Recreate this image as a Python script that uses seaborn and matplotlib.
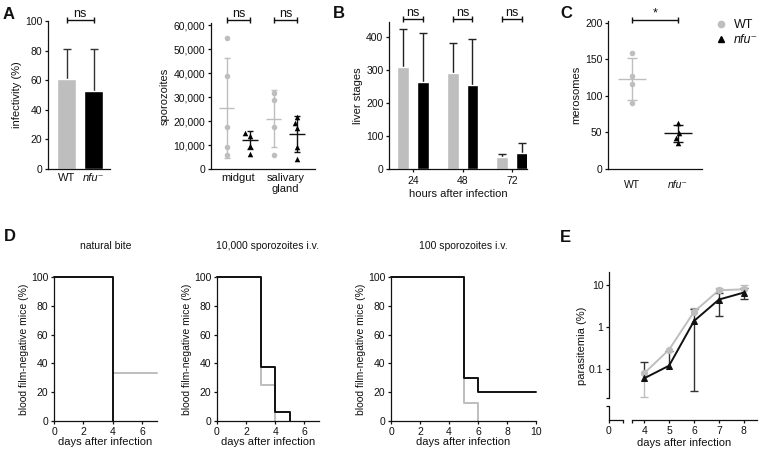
import numpy as np
import pandas as pd
import seaborn as sns
import matplotlib.pyplot as plt
from matplotlib.lines import Line2D
from matplotlib.ticker import StrMethodFormatter, NullLocator

# ---- values ----
geno = ["WT", "nfu"]

# A: infectivity (%)
infect_mean = [61, 53]
infect_top = [81, 81]

# A: sporozoites per mosquito
spz_groups = ["midgut WT", "midgut nfu", "salivary WT", "salivary nfu"]
midgut_wt = [54700, 39000, 17500, 9300, 5700]
midgut_nfu = [14900, 13800, 9800, 6200]
salivary_wt = [31700, 28700, 17600, 5800]
salivary_nfu = [21800, 19300, 17200, 9300, 4000]
spz_mean = [25300, 12100, 21000, 14400]
spz_lo = [4500, 8200, 9000, 6900]
spz_hi = [46100, 16000, 32800, 22200]

# B: liver stages
hours = ["24", "48", "72"]
liver_wt = [309, 292, 37]
liver_nfu = [265, 255, 50]
liver_wt_top = [425, 382, 47]
liver_nfu_top = [412, 394, 80]

# C: merosomes
mero_wt = [159, 128, 117, 90]
mero_nfu = [63, 49, 43, 36]
mero_mean = [123.5, 48.7]
mero_lo = [95, 37.4]
mero_hi = [152, 60]

# D: blood film-negative mice (%)
bite_wt_t, bite_wt = [0, 4, 7], [100, 33.3, 33.3]
bite_nfu_t, bite_nfu = [0, 4], [100, 0]
iv10k_wt_t, iv10k_wt = [0, 3, 4], [100, 25, 0]
iv10k_nfu_t, iv10k_nfu = [0, 3, 4, 5], [100, 37.5, 6.25, 0]
iv100_wt_t, iv100_wt = [0, 5, 6], [100, 12.5, 0]
iv100_nfu_t, iv100_nfu = [0, 5, 6, 10], [100, 30, 20, 20]

# E: parasitemia (%)
days = [4, 5, 6, 7, 8]
para_wt = [0.079, 0.29, 2.3, 7.5, 7.9]
para_wt_lo = [0.021, 0.29, 2.3, 7.5, 7.9]
para_wt_hi = [0.079, 0.29, 2.9, 8.5, 9.8]
para_nfu = [0.060, 0.12, 1.39, 4.5, 6.6]
para_nfu_lo = [0.060, 0.12, 0.030, 1.8, 4.7]
para_nfu_hi = [0.15, 0.27, 2.7, 6.6, 8.7]

# ---- style ----
GREY = "#bebebe"
INK = "#111111"
NFU = "nfu\u207b"

sns.set_style("ticks")
plt.rcParams["font.family"] = ["Liberation Sans", "DejaVu Sans"]
plt.rcParams.update({
    "axes.edgecolor": INK, "axes.labelcolor": INK, "text.color": INK,
    "xtick.color": INK, "ytick.color": INK,
    "axes.linewidth": 0.9,
    "xtick.major.width": 0.9, "ytick.major.width": 0.9,
    "xtick.major.size": 2.5, "ytick.major.size": 2.5,
    "xtick.major.pad": 1.5, "ytick.major.pad": 1.5,
    "xtick.labelsize": 7.5, "ytick.labelsize": 7.5,
    "axes.labelsize": 8, "axes.labelpad": 2.5,
})

W, H = 764, 455


def box(l, t, r, b):
    return [l / W, 1 - b / H, (r - l) / W, (b - t) / H]


def whisker(ax, x, y, lo, hi, color, cap=5, lw=1.0, z=1):
    ax.vlines(x, lo, hi, color=color, lw=lw, zorder=z)
    for xi, yi, l, h in zip(x, y, lo, hi):
        for e in (l, h):
            if e != yi:
                ax.plot([xi], [e], marker="_", ms=cap, mew=lw, color=color, zorder=z)


def bracket(ax, x0, x1, y, text, size=9):
    ax.plot([x0, x1], [y, y], color=INK, lw=1, marker="|", ms=4, mew=1, clip_on=False)
    ax.text((x0 + x1) / 2, y, text, ha="center", va="bottom", fontsize=size)


def geno_ticks(ax, pos, size=8):
    ax.set_xticks(pos, ["WT", NFU], fontsize=size)
    ax.get_xticklabels()[1].set_style("italic")


fig = plt.figure(figsize=(7.64, 4.55), dpi=100)

# ---- A: infectivity bars ----
ax = fig.add_axes(box(48, 21, 110, 169))
sns.barplot(x=geno, y=infect_mean, hue=geno, palette=[GREY, "black"], width=0.7,
            saturation=1, errorbar=None, legend=False, ax=ax)
whisker(ax, [0, 1], infect_mean, infect_mean, infect_top, "#333333", cap=6, z=0)
ax.set_xlim(-0.685, 1.61)
ax.set_ylim(0, 100)
ax.set_yticks(range(0, 101, 20))
geno_ticks(ax, [0, 1])
ax.tick_params(axis="x", length=0, pad=3)
ax.set_ylabel("infectivity (%)")
bracket(ax, 0, 1, 100.5, "ns")
sns.despine(ax=ax)

# ---- A: sporozoite scatter ----
spz = pd.DataFrame({
    "group": ["midgut WT"] * len(midgut_wt) + ["midgut nfu"] * len(midgut_nfu)
    + ["salivary WT"] * len(salivary_wt) + ["salivary nfu"] * len(salivary_nfu),
    "value": midgut_wt + midgut_nfu + salivary_wt + salivary_nfu,
})
spz["genotype"] = spz["group"].str.split().str[1]
ax = fig.add_axes(box(211, 23, 315, 169))
sns.swarmplot(data=spz[spz.genotype == "WT"], x="group", y="value", order=spz_groups,
              color=GREY, marker="o", size=4, ax=ax)
sns.swarmplot(data=spz[spz.genotype == "nfu"], x="group", y="value", order=spz_groups,
              color="black", marker="^", size=4, ax=ax)
xs = np.arange(4)
cols = [GREY, INK, GREY, INK]
for i in range(4):
    ax.hlines(spz_mean[i], xs[i] - 0.33, xs[i] + 0.33, color=cols[i], lw=1)
    whisker(ax, [xs[i]], [spz_mean[i]], [spz_lo[i]], [spz_hi[i]], cols[i], cap=5)
ax.set_xlim(-0.67, 3.76)
ax.set_ylim(0, 60900)
ax.set_yticks(range(0, 60001, 10000))
ax.yaxis.set_major_formatter(StrMethodFormatter("{x:,.0f}"))
ax.set_xticks([0.5, 2.5], ["midgut", "salivary\ngland"], fontsize=8, linespacing=1.05)
ax.tick_params(axis="x", length=0, pad=3)
ax.set_xlabel("")
ax.set_ylabel("sporozoites")
bracket(ax, 0, 1, 62100, "ns")
bracket(ax, 2, 3, 62100, "ns")
sns.despine(ax=ax)

# ---- B: liver stages ----
liver = pd.DataFrame({"hours": hours * 2, "value": liver_wt + liver_nfu,
                      "genotype": ["WT"] * 3 + ["nfu"] * 3})
ax = fig.add_axes(box(389, 22, 527, 169))
sns.barplot(data=liver, x="hours", y="value", hue="genotype", palette=[GREY, "black"],
            gap=0.4, saturation=1, errorbar=None, legend=False, ax=ax)
centers = sorted(p.get_x() + p.get_width() / 2 for p in ax.patches)
wt_x, nfu_x = centers[0::2], centers[1::2]
whisker(ax, wt_x, liver_wt, liver_wt, liver_wt_top, "#222222", cap=6, z=0)
whisker(ax, nfu_x, liver_nfu, liver_nfu, liver_nfu_top, "#222222", cap=6, z=0)
for a, b in zip(wt_x, nfu_x):
    bracket(ax, a, b, 454, "ns")
ax.set_xlim(-0.485, 2.30)
ax.set_ylim(0, 446)
ax.set_yticks(range(0, 401, 100))
ax.tick_params(axis="x", pad=2.5)
ax.set_xlabel("hours after infection", labelpad=2)
ax.set_ylabel("liver stages")
sns.despine(ax=ax)

# ---- C: merosomes ----
mero = pd.DataFrame({"genotype": ["WT"] * len(mero_wt) + ["nfu"] * len(mero_nfu),
                     "value": mero_wt + mero_nfu})
ax = fig.add_axes(box(608, 21, 702, 169))
sns.swarmplot(data=mero[mero.genotype == "WT"], x="genotype", y="value", order=geno,
              color=GREY, marker="o", size=4, ax=ax)
sns.swarmplot(data=mero[mero.genotype == "nfu"], x="genotype", y="value", order=geno,
              color="black", marker="^", size=4, ax=ax)
for i, c in enumerate([GREY, INK]):
    ax.hlines(mero_mean[i], i - 0.3, i + 0.3, color=c, lw=1)
    whisker(ax, [i], [mero_mean[i]], [mero_lo[i]], [mero_hi[i]], c, cap=7)
ax.set_xlim(-0.52, 1.52)
ax.set_ylim(0, 202.7)
ax.set_yticks(range(0, 201, 50))
geno_ticks(ax, [0, 1], size=7.5)
ax.tick_params(axis="x", length=0, pad=8)
ax.set_xlabel("")
ax.set_ylabel("merosomes")
bracket(ax, 0, 1, 204.5, "*")
sns.despine(ax=ax)

leg = fig.legend(handles=[Line2D([], [], ls="none", marker="o", ms=4.5, color=GREY),
                          Line2D([], [], ls="none", marker="^", ms=4.5, color="black")],
                 labels=["WT", NFU], loc="upper left", bbox_to_anchor=(716 / W, 1 - 19 / H),
                 frameon=False, fontsize=9, handlelength=0.8, handletextpad=0.6,
                 labelspacing=0.25, borderpad=0, borderaxespad=0)
leg.get_texts()[1].set_style("italic")

# ---- D: survival curves ----
d_panels = [
    ((54, 277, 157, 421), "natural bite", 7, (bite_wt_t, bite_wt), (bite_nfu_t, bite_nfu)),
    ((217, 277, 319, 421), "10,000 sporozoites i.v.", 7, (iv10k_wt_t, iv10k_wt), (iv10k_nfu_t, iv10k_nfu)),
    ((391, 277, 536, 421), "100 sporozoites i.v.", 10, (iv100_wt_t, iv100_wt), (iv100_nfu_t, iv100_nfu)),
]
for pos, title, xmax, wt, nfu in d_panels:
    ax = fig.add_axes(box(*pos))
    sns.lineplot(x=wt[0], y=wt[1], drawstyle="steps-post", color=GREY, lw=1.4,
                 estimator=None, clip_on=False, ax=ax)
    sns.lineplot(x=nfu[0], y=nfu[1], drawstyle="steps-post", color=INK, lw=1.4,
                 estimator=None, clip_on=False, ax=ax)
    ax.set_xlim(0, xmax)
    ax.set_ylim(0, 100)
    ax.set_xticks(range(0, xmax + 1, 2))
    ax.set_yticks(range(0, 101, 20))
    ax.set_xlabel("days after infection", labelpad=0)
    ax.set_ylabel("blood film-negative mice (%)", fontsize=7.5, labelpad=1.5)
    ax.text(0.5, 1.215, title, transform=ax.transAxes, ha="center", va="center", fontsize=7.5)
    sns.despine(ax=ax)

# ---- E: parasitemia, broken axes ----
y_lim = (0.0061, 20.4)
stub = fig.add_axes(box(609, 272, 623, 420))
main = fig.add_axes(box(632, 272, 757, 420))
for a in (stub, main):
    a.set_yscale("log")
    a.set_ylim(*y_lim)
    a.yaxis.set_minor_locator(NullLocator())
    sns.despine(ax=a)

stub.set_xlim(0, 1)
stub.set_xticks([0, 1], ["0", ""])
stub.set_yticks([10, 1, 0.1, 0.0204, 0.0131], ["10", "1", "0.1", "", ""])
stub.spines["left"].set_bounds(0.0204, y_lim[1])
stub.plot([0, 0], [0, (420 - 405.7) / 148], transform=stub.transAxes, color=INK,
          lw=0.9, clip_on=False)
stub.set_ylabel("parasitemia (%)", labelpad=1.5)

sns.lineplot(x=days, y=para_wt, color=GREY, marker="o", ms=4.5, mec=GREY, lw=1.4, ax=main)
sns.lineplot(x=days, y=para_nfu, color=INK, marker="^", ms=4.5, mec=INK, lw=1.4, ax=main)
whisker(main, days, para_wt, para_wt_lo, para_wt_hi, GREY, cap=6)
whisker(main, days, para_nfu, para_nfu_lo, para_nfu_hi, "#333333", cap=6)
main.set_xlim(3.51, 8.53)
main.set_xticks([3.51, 4, 5, 6, 7, 8], ["", "4", "5", "6", "7", "8"])
main.spines["left"].set_visible(False)
main.tick_params(axis="y", left=False, labelleft=False)
main.set_xlabel("days after infection")
main.xaxis.set_label_coords(0.42, -0.12)

# ---- panel letters ----
for letter, x, y in [("A", 3, 7), ("B", 333, 6), ("C", 560, 6), ("D", 4, 229), ("E", 560, 230)]:
    fig.text(x / W, 1 - y / H, letter, fontsize=12, weight="bold", va="top", ha="left")

fig.savefig("out.png", dpi=100)
